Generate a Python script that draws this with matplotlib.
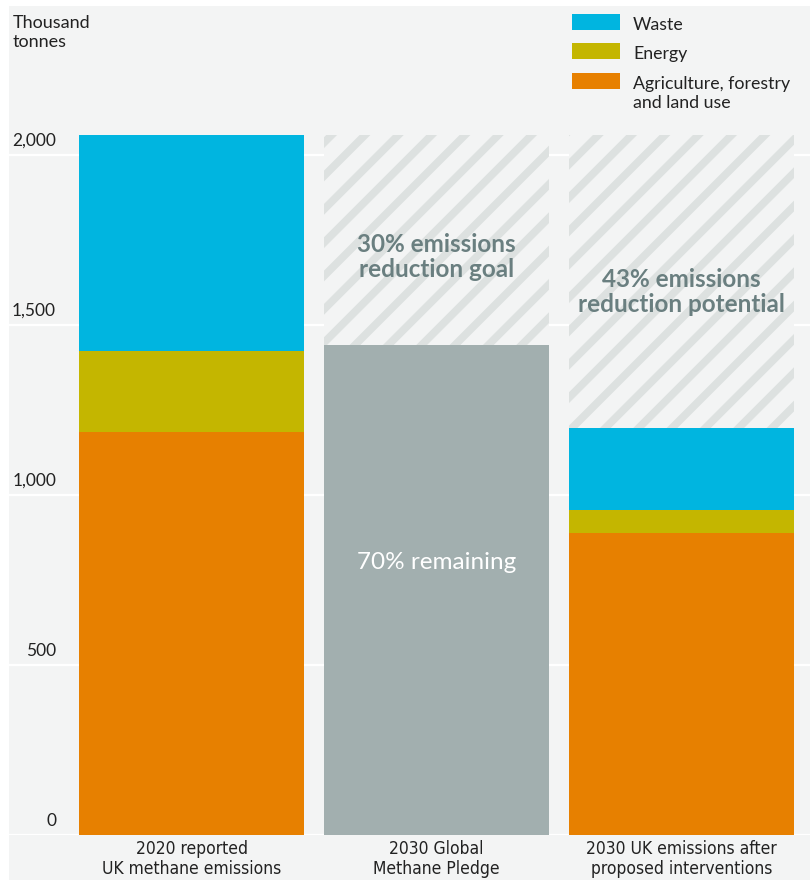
import matplotlib.pyplot as plt
from matplotlib.patches import Rectangle
from matplotlib.transforms import offset_copy

plt.rcParams['font.family'] = ['Lato', 'DejaVu Sans']
plt.rcParams['hatch.linewidth'] = 5.5

# data (thousand tonnes of methane)
categories = ["2020 reported\nUK methane emissions",
              "2030 Global\nMethane Pledge",
              "2030 UK emissions after\nproposed interventions"]
agri = [1185, 0, 888]
energy = [238, 0, 68]
waste = [634, 0, 240]
pledge_remaining = [0, 1440, 0]
baseline_total = 2057
yticks = [0, 500, 1000, 1500, 2000]
sector_names = ["Waste", "Energy", "Agriculture, forestry\nand land use"]

c_waste = "#00b5e0"
c_energy = "#c4b600"
c_agri = "#e78000"
c_grey = "#a2afaf"
bg = "#f3f4f4"
note_col = "#6a7f80"

W, H = 810, 880
fig = plt.figure(figsize=(W / 100, H / 100), dpi=100)
fig.patch.set_facecolor("white")
fig.add_artist(Rectangle((9 / W, 0), 801 / W, 874 / H, transform=fig.transFigure,
                         facecolor=bg, edgecolor="none", zorder=-10))

ax = fig.add_axes([9 / W, 45 / H, 801 / W, 714.4 / H])
ax.set_facecolor("none")
ax.set_xlim(-0.745, 2.524)
ax.set_ylim(0, 2100)
for s in ax.spines.values():
    s.set_visible(False)
ax.set_xticks([])
ax.set_yticks([])

# gridlines
for t in yticks:
    ax.axhline(t, color="white", lw=1.6, zorder=0)

x = [0, 1, 2]
bw = 225 / 245

# hatched "reduction" reference bars
ax.bar(x[1:], [baseline_total] * 2, width=bw, facecolor=bg, edgecolor="#dde1e0",
       hatch="/", linewidth=0, zorder=1)

bottom2 = [a + e for a, e in zip(agri, energy)]
ax.bar(x, agri, width=bw, color=c_agri, zorder=2)
ax.bar(x, energy, bottom=agri, width=bw, color=c_energy, zorder=2)
ax.bar(x, waste, bottom=bottom2, width=bw, color=c_waste, zorder=2)
ax.bar(x, pledge_remaining, width=bw, color=c_grey, zorder=2)

# annotations
ax.text(1, 1700, "30% emissions\nreduction goal", ha="center", va="center",
        color=note_col, fontsize=17.5, fontweight="bold", linespacing=1.12, zorder=3)
ax.text(2, 1596, "43% emissions\nreduction potential", ha="center", va="center",
        color=note_col, fontsize=17.5, fontweight="bold", linespacing=1.12, zorder=3)
ax.text(1, 800, "70% remaining", ha="center", va="center", color="white",
        fontsize=17.5, zorder=3)

# y labels above gridlines
tr = offset_copy(ax.transData, fig=fig, x=0, y=6, units="dots")
for t in yticks:
    ax.text(-0.553, t, f"{t:,}", transform=tr, ha="right", va="bottom",
            fontsize=12.5, color="#222222")

# category labels
trx = offset_copy(ax.transData, fig=fig, x=0, y=-5, units="dots")
for i, lab in enumerate(categories):
    ax.text(x[i], 0, lab, transform=trx, ha="center", va="top", fontsize=12.5,
            color="#222222", linespacing=1.15, family="DejaVu Sans",
            fontstretch="condensed")

fig.text(13 / W, 1 - 15 / H, "Thousand\ntonnes", ha="left", va="top",
         fontsize=13, color="#222222", linespacing=1.2)

# legend
for name, col, top in zip(sector_names, [c_waste, c_energy, c_agri], [14, 43, 73]):
    fig.add_artist(Rectangle((572 / W, 1 - (top + 16) / H), 48 / W, 16 / H,
                             transform=fig.transFigure, facecolor=col,
                             edgecolor="none"))
    fig.text(633 / W, 1 - (top + 3) / H, name, ha="left", va="top", fontsize=12.8,
             color="#222222", linespacing=1.2)

fig.savefig("out.png", dpi=100, facecolor=fig.get_facecolor())
